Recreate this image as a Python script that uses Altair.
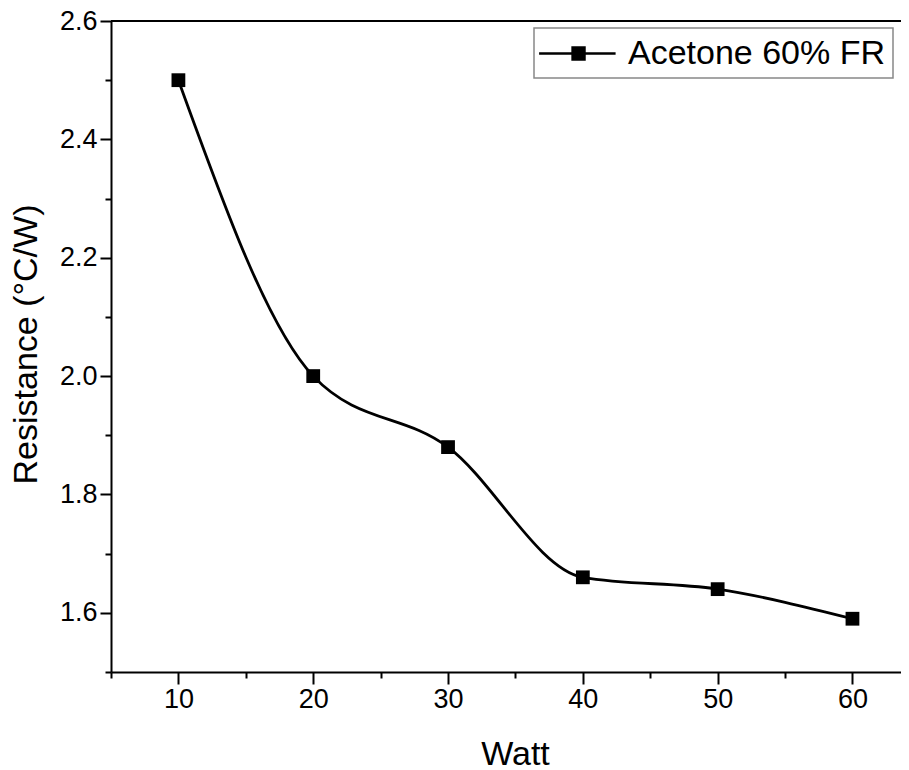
import altair as alt
import pandas as pd

watt = [10, 20, 30, 40, 50, 60]
resistance = [2.50, 2.00, 1.88, 1.66, 1.64, 1.59]
series = ["Acetone 60% FR"] * len(watt)

x_major = [10, 20, 30, 40, 50, 60]
x_minor = [5, 15, 25, 35, 45, 55]
y_major = [1.6, 1.8, 2.0, 2.2, 2.4, 2.6]
y_minor = [1.5, 1.7, 1.9, 2.1, 2.3, 2.5]

df = pd.DataFrame({"Watt": watt, "Resistance": resistance, "Series": series})

FONT = "Liberation Sans"
W, H = 790, 651
x_scale = alt.Scale(domain=[5, 63.6], nice=False, zero=False)
y_scale = alt.Scale(domain=[1.5, 2.6], nice=False, zero=False)

x_major_axis = alt.Axis(
    title="Watt",
    orient="bottom",
    values=x_major,
    format="d",
    tickSize=12,
    tickColor="black",
    tickWidth=2,
    domainColor="black",
    domainWidth=2,
    labelFont=FONT,
    labelFontSize=27,
    labelColor="black",
    labelPadding=2,
    titleFont=FONT,
    titleFontSize=34,
    titleFontWeight="normal",
    titleColor="black",
    titleX=404,
    titleY=92,
    titleBaseline="alphabetic",
    grid=False,
)

y_major_axis = alt.Axis(
    title="Resistance (°C/W)",
    orient="left",
    values=y_major,
    format=".1f",
    tickSize=11,
    tickColor="black",
    tickWidth=2,
    domainColor="black",
    domainWidth=2,
    labelFont=FONT,
    labelFontSize=27,
    labelColor="black",
    labelPadding=3,
    titleFont=FONT,
    titleFontSize=34,
    titleFontWeight="normal",
    titleColor="black",
    titleX=-75,
    titleY=323,
    titleAlign="center",
    titleBaseline="alphabetic",
    grid=False,
)

x_minor_axis = alt.Axis(
    title=None, orient="bottom", values=x_minor, labels=False, domain=False,
    tickSize=6, tickColor="black", tickWidth=2, grid=False,
)
y_minor_axis = alt.Axis(
    title=None, orient="left", values=y_minor, labels=False, domain=False,
    tickSize=6, tickColor="black", tickWidth=2, grid=False,
)

line = alt.Chart(df).mark_line(
    interpolate="monotone", color="black", strokeWidth=2.8
).encode(
    x=alt.X("Watt:Q", scale=x_scale, axis=x_major_axis),
    y=alt.Y("Resistance:Q", scale=y_scale, axis=y_major_axis),
)

points = alt.Chart(df).mark_point(
    shape="square", filled=True, size=190, opacity=1
).encode(
    x=alt.X("Watt:Q", scale=x_scale, axis=x_minor_axis),
    y=alt.Y("Resistance:Q", scale=y_scale, axis=y_minor_axis),
    color=alt.Color(
        "Series:N",
        scale=alt.Scale(range=["black"]),
        legend=alt.Legend(
            title=None,
            orient="none",
            legendX=423,
            legendY=7,
            strokeColor="#888888",
            padding=7,
            symbolType="M-1.2,0H3.3M0.77,-0.353H1.47V0.353H0.77Z",
            symbolSize=1156,
            symbolStrokeWidth=2.5,
            symbolStrokeColor="black",
            symbolFillColor="black",
            symbolOpacity=1,
            labelFont=FONT,
            labelFontSize=34,
            labelColor="black",
            labelOffset=50,
            labelLimit=400,
        ),
    ),
)

top_frame = alt.Chart(df).mark_rule(color="black", strokeWidth=2).encode(
    x=alt.value(0), x2=alt.value(W), y=alt.value(0)
)

chart = (
    alt.layer(line, points, top_frame)
    .resolve_axis(x="independent", y="independent")
    .properties(
        width=W,
        height=H,
        autosize=alt.AutoSizeParams(type="none"),
        padding={"left": 103, "top": 13, "right": 0, "bottom": 96},
        background="white",
    )
    .configure_view(strokeWidth=0)
    .configure_legend(strokeWidth=1.5)
)

chart.save("out.html", embed_options={"renderer": "svg", "actions": False})
